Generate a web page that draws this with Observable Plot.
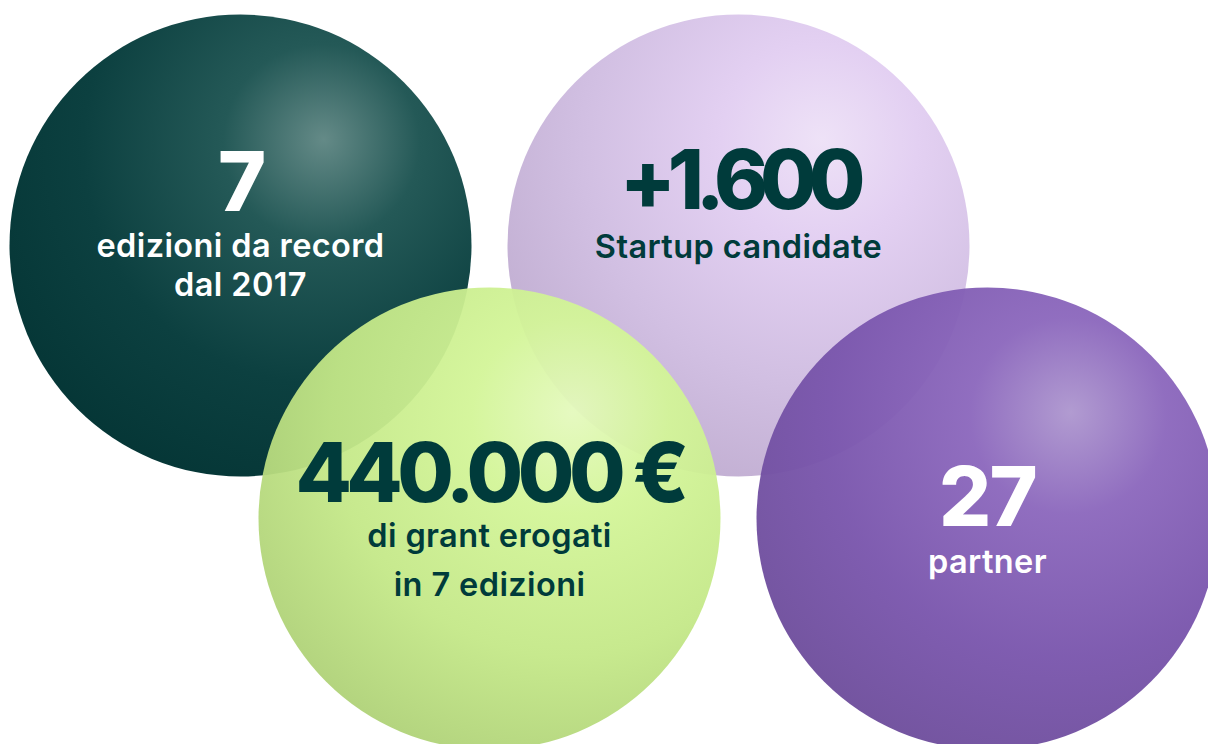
<!DOCTYPE html>
<html>
<head>
<meta charset="utf-8">
<script src="https://cdn.jsdelivr.net/npm/d3@7"></script>
<script src="https://cdn.jsdelivr.net/npm/@observablehq/plot@0.6"></script>
<style>
  html, body { margin: 0; padding: 0; background: #ffffff; }
  #chart svg { display: block; }
  .cap text { letter-spacing: 0.012em; }
  .fig0 text { letter-spacing: -0.04em; }
  .fig1 text { letter-spacing: -0.1em; }
  .fig2 text { letter-spacing: -0.068em; }
  .fig3 text { letter-spacing: -0.02em; }
</style>
</head>
<body>
<div id="chart"></div>
<script>
// ---- data ----
const figures  = ["7", "+1.600", "440.000 €", "27"];
const captions = ["edizioni da record\ndal 2017", "Startup candidate", "di grant erogati\nin 7 edizioni", "partner"];
const slotCol  = [0, 2, 1, 3];   // zig-zag slot (column)
const slotRow  = [0, 0, 1, 1];   // zig-zag slot (row)

// ---- styles (kept apart from data) ----
const palettes = [
  ["#648a87", "#24595 7".replace(" ", ""), "#0c4040", "#033333"],   // dark green
  ["#eee2f7", "#e3d0f2", "#d1bfe2", "#bca9cc"],   // lavender
  ["#e4f9bd", "#d3f598", "#c4e888", "#a8ca72"],   // lime
  ["#ae97cf", "#8c68bd", "#7a56ad", "#6a4b96"]    // purple
];
const ink        = ["#ffffff", "#003b3b", "#003b3b", "#ffffff"];
const ballAlpha  = [1, 1, 0.95, 0.96];
const figDy      = [-35, -37, -17, 7];
const capDy      = [50, 12, 77, 54];
const capLead    = [1.18, 1, 1.48, 1];
const FONT = "Inter, 'Noto Sans', sans-serif";

const bubbles = figures.map((f, i) => ({
  id: i, figure: f, caption: captions[i], col: slotCol[i], row: slotRow[i], alpha: ballAlpha[i]
}));

const marks = [
  Plot.dot(bubbles, {
    x: "col", y: "row", r: 231,
    fill: d => `url(#ball${d.id})`,
    fillOpacity: "alpha",
    stroke: "none"
  })
];
bubbles.forEach((b, i) => {
  marks.push(Plot.text([b], {
    x: "col", y: "row", text: "figure", dy: figDy[i],
    lineAnchor: "bottom", fontSize: 82, fontWeight: 800,
    fontFamily: FONT, fill: ink[i], className: `fig${i}`
  }));
  marks.push(Plot.text([b], {
    x: "col", y: "row", text: "caption", dy: capDy[i],
    lineAnchor: "bottom", lineHeight: capLead[i], fontSize: 32.5, fontWeight: 600,
    fontFamily: FONT, fill: ink[i], className: "cap"
  }));
});

const chart = Plot.plot({
  width: 1208,
  height: 744,
  margin: 0,
  x: { domain: [0, 3], range: [240, 987], axis: null },
  y: { domain: [0, 1], range: [245, 518], axis: null },
  color: { type: "identity" },
  opacity: { type: "identity" },
  marks
});

// radial "sphere" gradients
const svg = d3.select(chart);
const defs = svg.insert("defs", ":first-child");
palettes.forEach((p, i) => {
  const g = defs.append("radialGradient")
    .attr("id", `ball${i}`)
    .attr("cx", 0.66).attr("cy", 0.3)
    .attr("fx", 0.68).attr("fy", 0.27)
    .attr("r", 0.85);
  [[0, p[0]], [0.25, p[1]], [0.6, p[2]], [1, p[3]]].forEach(([o, c]) =>
    g.append("stop").attr("offset", o).attr("stop-color", c));
});

document.getElementById("chart").appendChild(chart);
</script>
</body>
</html>
